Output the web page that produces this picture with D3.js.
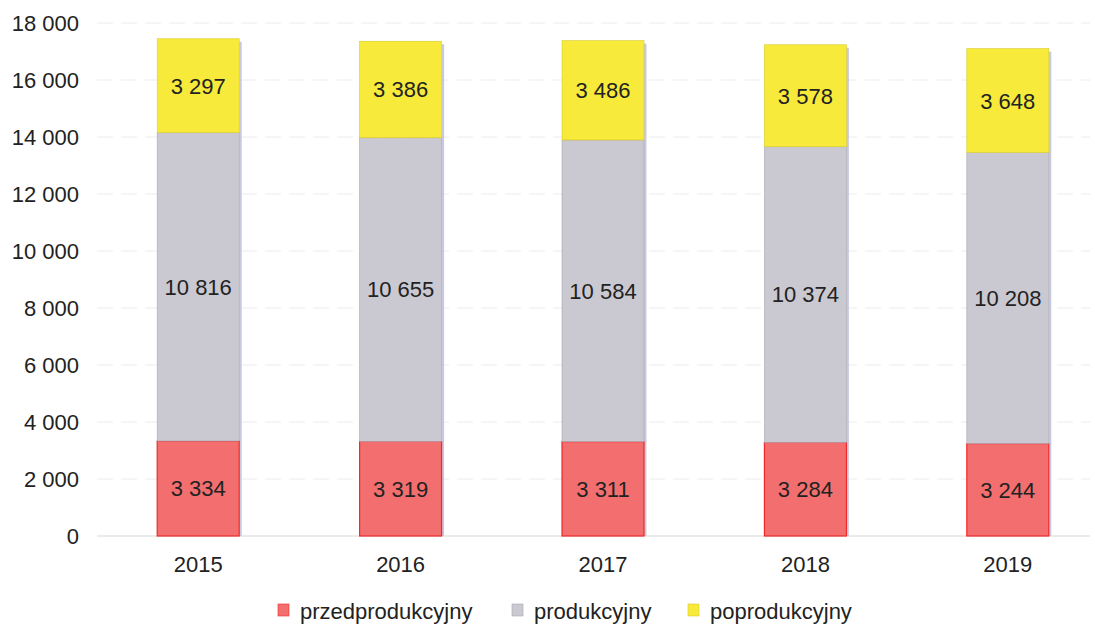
<!DOCTYPE html>
<html><head><meta charset="utf-8">
<script src="https://cdn.jsdelivr.net/npm/d3@7"></script>
<style>
html,body{margin:0;padding:0;background:#fff;}
text{font-family:"Liberation Sans",Arial,sans-serif;fill:#222;}
</style></head>
<body><svg id="c" width="1095" height="626"></svg>
<script>
const years = ["2015","2016","2017","2018","2019"];
const seriesNames = ["przedprodukcyjny","produkcyjny","poprodukcyjny"];
const przedprodukcyjny = [3334,3319,3311,3284,3244];
const produkcyjny = [10816,10655,10584,10374,10208];
const poprodukcyjny = [3297,3386,3486,3578,3648];
const yTicks = [0,2000,4000,6000,8000,10000,12000,14000,16000,18000];
const colors = ["#f36e6e","#cac8d0","#f7ea3a"];
const strokes = ["#f02a2a","#a9a7b3","#d9cc2a"];

const rows = years.map((y,i)=>({year:y, przedprodukcyjny:przedprodukcyjny[i], produkcyjny:produkcyjny[i], poprodukcyjny:poprodukcyjny[i]}));
const stack = d3.stack().keys(seriesNames)(rows);

const svg = d3.select("#c");
const x = d3.scaleBand().domain(years).range([97,1109]).paddingInner(0.595).paddingOuter(0.2975);
const y = d3.scaleLinear().domain([0,18000]).range([536,23]);
const fmt = v => d3.format(",")(v).replace(/,/g," ");
const FS = "22px";

// gridlines
svg.append("g").selectAll("line").data(yTicks.filter(t=>t>0)).join("line")
  .attr("x1",97).attr("x2",1090).attr("y1",d=>y(d)).attr("y2",d=>y(d))
  .attr("stroke","#ececec").attr("stroke-width",1).attr("stroke-dasharray","16,8");
svg.append("line").attr("x1",97).attr("x2",1090).attr("y1",y(0)).attr("y2",y(0))
  .attr("stroke","#d8d8d8").attr("stroke-width",1.2);

// y axis labels
const yAxis = d3.axisLeft(y).tickValues(yTicks).tickFormat(fmt).tickSize(0).tickPadding(0);
const ya = svg.append("g").attr("transform","translate(79,0)").call(yAxis);
ya.select(".domain").remove();
ya.selectAll("text").style("font-size",FS).style("font-family","Liberation Sans, Arial, sans-serif").attr("fill","#222").attr("dy","0.36em");

// shadows
svg.append("g").selectAll("rect").data(rows).join("rect")
  .attr("x",d=>x(d.year)+x.bandwidth()).attr("width",2.5)
  .attr("y",d=>y(d.przedprodukcyjny+d.produkcyjny+d.poprodukcyjny)+3)
  .attr("height",d=>y(0)-y(d.przedprodukcyjny+d.produkcyjny+d.poprodukcyjny)-3)
  .attr("fill","#b9bdd6").attr("opacity",0.8);

// bars
stack.forEach((s,si)=>{
  const g = svg.append("g");
  g.selectAll("rect").data(s).join("rect")
    .attr("x",d=>x(d.data.year)).attr("width",x.bandwidth())
    .attr("y",d=>y(d[1])).attr("height",d=>y(d[0])-y(d[1]))
    .attr("fill",colors[si]).attr("stroke",strokes[si]).attr("stroke-width",si===0?1.2:0.6);
  g.selectAll("text").data(s).join("text")
    .attr("x",d=>x(d.data.year)+x.bandwidth()/2)
    .attr("y",d=>(y(d[0])+y(d[1]))/2).attr("dy","0.36em")
    .attr("text-anchor","middle").style("font-size",FS)
    .text(d=>fmt(d[1]-d[0]));
});

// x axis labels
const xAxis = d3.axisBottom(x).tickSize(0).tickPadding(0);
const xa = svg.append("g").attr("transform","translate(0,572)").call(xAxis);
xa.select(".domain").remove();
xa.selectAll("text").style("font-size",FS).style("font-family","Liberation Sans, Arial, sans-serif").attr("fill","#222").attr("dy","0").attr("y",0);

// legend
const legX = [278,512,688];
const leg = svg.append("g");
seriesNames.forEach((n,i)=>{
  leg.append("rect").attr("x",legX[i]).attr("y",604).attr("width",11).attr("height",12)
    .attr("fill",colors[i]).attr("stroke",strokes[i]).attr("stroke-width",0.6);
  leg.append("text").attr("x",legX[i]+22).attr("y",619)
    .style("font-size",FS).text(n);
});
</script></body></html>
